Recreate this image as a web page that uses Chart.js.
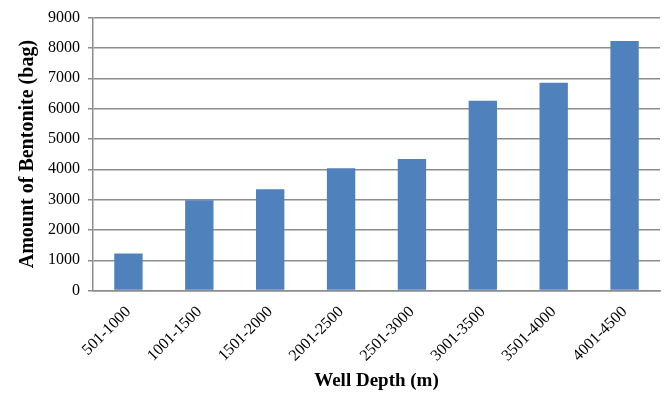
<!DOCTYPE html>
<html lang="en">
<head>
    <meta charset="UTF-8">
    <title>Amount of Bentonite by Well Depth</title>
    <script src="https://cdn.jsdelivr.net/npm/chart.js@4.4.0/dist/chart.umd.min.js"></script>
    <style>
        html, body { margin: 0; padding: 0; background: #fff; }
        .chart-box { position: relative; width: 665px; height: 401px; }
    </style>
</head>
<body>
    <div class="chart-box">
        <canvas id="bentoniteChart"></canvas>
    </div>
    <script>
        // Data
        const depthRanges = ['501-1000', '1001-1500', '1501-2000', '2001-2500',
                             '2501-3000', '3001-3500', '3501-4000', '4001-4500'];
        const bentoniteBags = [1220, 2980, 3340, 4030, 4335, 6255, 6850, 8230];
        const yMin = 0;
        const yMax = 9000;
        const yStep = 1000;

        const serif = '"Liberation Serif", "DejaVu Serif", serif';

        const ctx = document.getElementById('bentoniteChart').getContext('2d');
        new Chart(ctx, {
            type: 'bar',
            data: {
                labels: depthRanges,
                datasets: [{
                    label: 'Amount of Bentonite',
                    data: bentoniteBags,
                    backgroundColor: '#4f81bd',
                    borderWidth: 0,
                    categoryPercentage: 1.0,
                    barPercentage: 0.4
                }]
            },
            options: {
                responsive: true,
                maintainAspectRatio: false,
                animation: false,
                layout: { padding: { top: 10, right: 5, left: 16, bottom: 9 } },
                plugins: {
                    legend: { display: false },
                    tooltip: { enabled: false }
                },
                scales: {
                    x: {
                        grid: { display: false },
                        border: { display: true, color: '#8c8c8c', width: 1.5 },
                        ticks: {
                            color: '#000',
                            font: { family: serif, size: 16 },
                            minRotation: 45,
                            maxRotation: 45,
                            padding: 4
                        },
                        title: {
                            display: true,
                            text: 'Well Depth (m)',
                            color: '#000',
                            font: { family: serif, size: 19, weight: 'bold' },
                            padding: { top: 0, bottom: 0 }
                        }
                    },
                    y: {
                        min: yMin,
                        max: yMax,
                        grid: {
                            color: '#8c8c8c',
                            lineWidth: 1.5,
                            tickLength: 5
                        },
                        border: { display: true, color: '#8c8c8c', width: 1.5 },
                        ticks: {
                            stepSize: yStep,
                            color: '#000',
                            font: { family: serif, size: 16 },
                            padding: 8,
                            callback: value => String(value)
                        },
                        title: {
                            display: true,
                            text: 'Amount of Bentonite (bag)',
                            color: '#000',
                            font: { family: serif, size: 20, weight: 'bold' },
                            padding: { top: 0, bottom: 0 }
                        }
                    }
                }
            }
        });
    </script>
</body>
</html>
